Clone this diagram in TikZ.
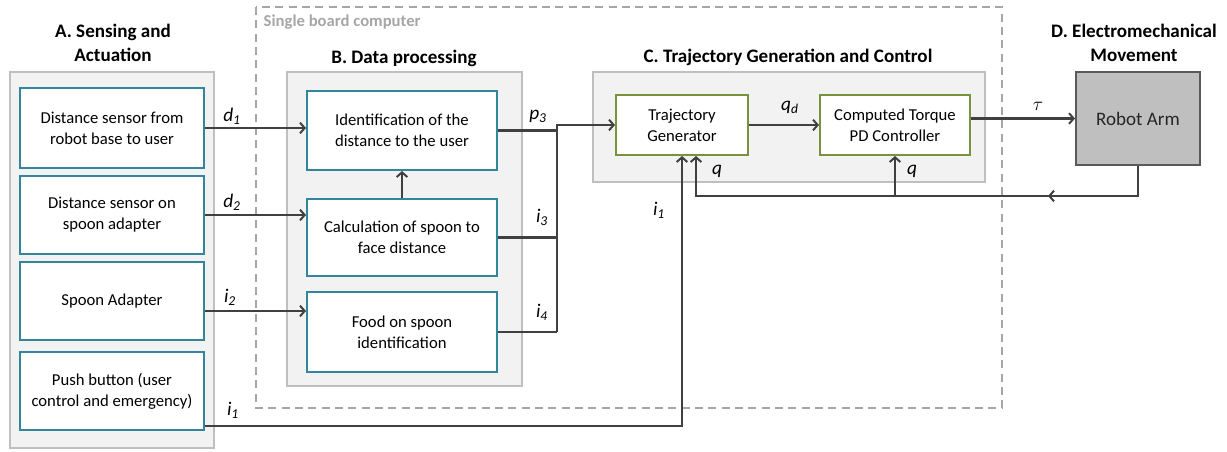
\documentclass[tikz,border=0pt]{standalone}
\usepackage{fontspec}
\setmainfont{Carlito}
\usetikzlibrary{arrows.meta}
\definecolor{panelfill}{HTML}{F2F2F2}
\definecolor{panelline}{HTML}{BFBFBF}
\definecolor{tealline}{HTML}{31859C}
\definecolor{greenline}{HTML}{77933C}
\definecolor{wire}{HTML}{404040}
\definecolor{dashgray}{HTML}{A6A6A6}
\definecolor{armfill}{HTML}{BFBFBF}
\definecolor{armline}{HTML}{595959}
\definecolor{armtext}{HTML}{262626}
\newcommand{\sig}[2]{\textit{#1}\textsubscript{\textit{#2}}}
\tikzset{
  panel/.style={fill=panelfill, draw=panelline, line width=1.5pt},
  sensebox/.style={draw=tealline, line width=1.5pt, fill=white, align=center,
    font=\fontsize{12.5}{15.75}\selectfont, inner sep=2pt},
  ctrlbox/.style={draw=greenline, line width=1.5pt, fill=white, align=center,
    font=\fontsize{12.5}{15.75}\selectfont, inner sep=2pt,
    minimum height=45pt},
  heading/.style={font=\bfseries\fontsize{14.3}{18}\selectfont, align=center},
  wirelabel/.style={font=\fontsize{14.5}{14.5}\selectfont, text=black},
  line/.style={draw=wire, line width=1.8pt},
  arr/.style={line, -{Straight Barb[length=3.5pt,width=8pt,line width=1.5pt]}},
}
\begin{document}
\begin{tikzpicture}[x=0.75pt,y=-0.75pt]
\useasboundingbox (0,0) rectangle (1227,451);

% single board computer boundary
\draw[dashgray, line width=1.4pt, dash pattern=on 6pt off 4pt] (256,7) rectangle (1002,408);
\node[anchor=west, text=dashgray, font=\bfseries\fontsize{12.5}{14}\selectfont] (sbc) at (259,22) {Single board computer};

% group panels
\draw[panel] (10,72) rectangle (214,448);
\draw[panel] (287,72) rectangle (522,386);
\draw[panel] (593,72) rectangle (985,182);

% headings
\node[heading] (hA) at (113,43) {A. Sensing and\\Actuation};
\node[heading] (hB) at (404,58) {B. Data processing};
\node[heading] (hC) at (788,57) {C. Trajectory Generation and Control};
\node[heading] (hD) at (1134,43) {D. Electromechanical\\Movement};

% A. sensing and actuation
\node[sensebox, minimum width=138pt, minimum height=60pt] (A1) at (112,128) {Distance sensor from\\robot base to user};
\node[sensebox, minimum width=138pt, minimum height=58.5pt] (A2) at (112,215) {Distance sensor on\\spoon adapter};
\node[sensebox, minimum width=138pt, minimum height=58.5pt] (A3) at (112,301) {Spoon Adapter};
\node[sensebox, minimum width=138pt, minimum height=58.5pt] (A4) at (112,391) {Push button (user\\control and emergency)};

% B. data processing
\node[sensebox, minimum width=142.5pt, minimum height=59.25pt] (B1) at (402,130.5) {Identification of the\\distance to the user};
\node[sensebox, minimum width=142.5pt, minimum height=57.75pt] (B2) at (402,237.5) {Calculation of spoon to\\face distance};
\node[sensebox, minimum width=142.5pt, minimum height=60pt] (B3) at (402,332) {Food on spoon\\identification};

% C. trajectory generation and control
\node[ctrlbox, minimum width=99pt] (TG) at (682,125) {Trajectory\\Generator};
\node[ctrlbox, minimum width=112.5pt] (CT) at (895,125) {Computed Torque\\PD Controller};

% D. robot arm
\node[draw=armline, fill=armfill, line width=1.5pt, minimum width=93pt, minimum height=69.75pt,
  font=\fontsize{14.3}{16}\selectfont, text=armtext] (Robot) at (1138,118.5) {Robot Arm};

% sensing to processing
\draw[arr] (A1.east) -- (A1.east -| B1.west);
\draw[arr] (A2.east) -- (A2.east -| B2.west);
\draw[arr] ([yshift=-7.5pt]A3.east) -- ([yshift=-7.5pt]A3.east -| B3.west);
\draw[arr] (B2.north) -- (B1.south);

% processing outputs gathered on one bus into the trajectory generator
\coordinate (jx) at (557,0);
\draw[line] (B1.east) -- (B1.east -| jx);
\draw[line] (B2.east) -- (B2.east -| jx);
\draw[line] (B3.east) -- (B3.east -| jx);
\draw[arr] (B3.east -| jx) -- (TG.west -| jx) -- (TG.west);

% push button straight to the trajectory generator
\draw[arr] ([yshift=-26.25pt]A4.east) -| (TG.south);

% control chain
\draw[arr] (TG.east) -- (CT.west);
\draw[arr] (Robot.west -| CT.east) -- (Robot.west);

% joint feedback
\path (Robot.south) ++(0,30) coordinate (fbR);
\draw[arr] (Robot.south) -- (fbR) -| ([xshift=10.5pt]TG.south);
\draw[arr] (fbR) -- ++(-90,0) coordinate (fbTip);
\draw[arr] (CT.south |- fbR) -- (CT.south);

% signal labels
\node[wirelabel] (ld1) at (232,116) {\sig{d}{1}};
\node[wirelabel] (ld2) at (232,202) {\sig{d}{2}};
\node[wirelabel] (li2) at (230,297) {\sig{i}{2}};
\node[wirelabel] (li1a) at (233,410) {\sig{i}{1}};
\node[wirelabel] (lp3) at (538,116) {\sig{p}{3}};
\node[wirelabel] (li3) at (542,217) {\sig{i}{3}};
\node[wirelabel] (li4) at (542,312) {\sig{i}{4}};
\node[wirelabel] (li1b) at (659,210) {\sig{i}{1}};
\node[wirelabel] (lqd) at (790,107) {\sig{q}{d}};
\node[wirelabel] (ltau) at (1038,106) {\Large$\tau$};
\node[wirelabel] (lq1) at (717,171) {\textit{q}};
\node[wirelabel] (lq2) at (912,171) {\textit{q}};
\end{tikzpicture}
\end{document}
